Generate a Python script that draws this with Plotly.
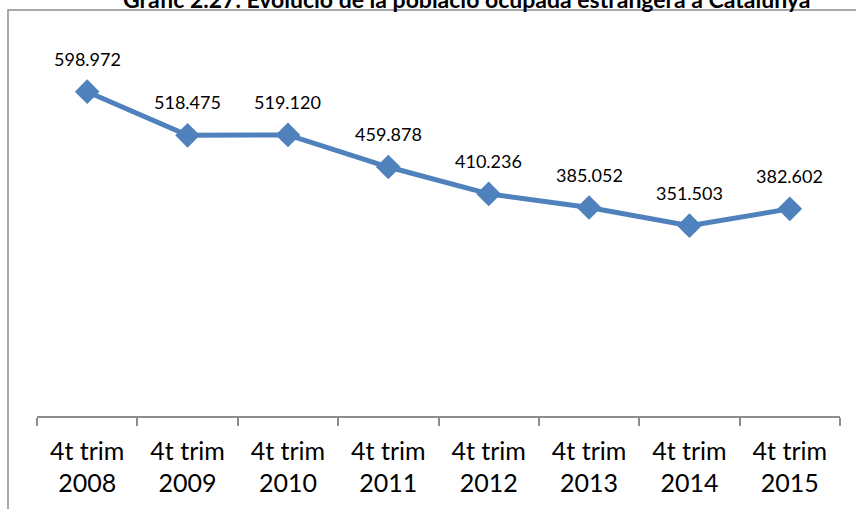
import plotly.graph_objects as go

categories = ["4t trim<br>2008", "4t trim<br>2009", "4t trim<br>2010", "4t trim<br>2011",
              "4t trim<br>2012", "4t trim<br>2013", "4t trim<br>2014", "4t trim<br>2015"]
values = [598.972, 518.475, 519.120, 459.878, 410.236, 385.052, 351.503, 382.602]
labels = ["598.972", "518.475", "519.120", "459.878", "410.236", "385.052", "351.503", "382.602"]
title = "Gràfic 2.27. Evolució de la població ocupada estrangera a Catalunya"

COLOR = "#4F81BD"
FONT = "Lato"

fig = go.Figure()
fig.add_trace(go.Scatter(
    x=categories, y=values, mode="lines+markers",
    line=dict(color=COLOR, width=5),
    marker=dict(symbol="diamond", size=19, color=COLOR),
    hoverinfo="skip", showlegend=False,
))

for c, v, t in zip(categories, values, labels):
    fig.add_annotation(x=c, y=v, text=t, showarrow=False, yshift=33,
                       font=dict(family=FONT, size=18, color="#000000"))

L, R, T, B = 37, 16, 37, 93
W, H = 856, 509
pw, ph = W - L - R, H - T - B

def px_x(p):
    return (p - L) / pw

def px_y(p):
    return (H - B - p) / ph

fig.add_shape(type="rect", xref="paper", yref="paper",
              x0=px_x(8), x1=px_x(W + 20), y0=px_y(10), y1=px_y(H + 20),
              line=dict(color="#8C8C8C", width=1.5), fillcolor="rgba(0,0,0,0)", layer="below")

fig.add_annotation(xref="paper", yref="paper", x=px_x(466), y=px_y(-1), text="<b>" + title + "</b>",
                   showarrow=False, xanchor="center", yanchor="middle",
                   font=dict(family=FONT, size=23, color="#000000"))

fig.update_layout(
    width=W, height=H,
    margin=dict(l=L, r=R, t=T, b=B, pad=0),
    paper_bgcolor="white", plot_bgcolor="white",
    font=dict(family=FONT, color="#000000"),
    xaxis=dict(type="category", range=[-0.5, 7.5], tickson="boundaries",
               showline=True, linecolor="#8C8C8C", linewidth=1.5,
               ticks="outside", ticklen=8, tickcolor="#8C8C8C", tickwidth=1.5,
               ticklabelstandoff=12,
               showgrid=False, zeroline=False,
               tickfont=dict(family=FONT, size=25, color="#000000")),
    yaxis=dict(range=[0, 700], visible=False, showgrid=False, zeroline=False),
)

fig.write_html("out.html", config={"displayModeBar": False},
               post_script="document.body.style.margin='0';")
